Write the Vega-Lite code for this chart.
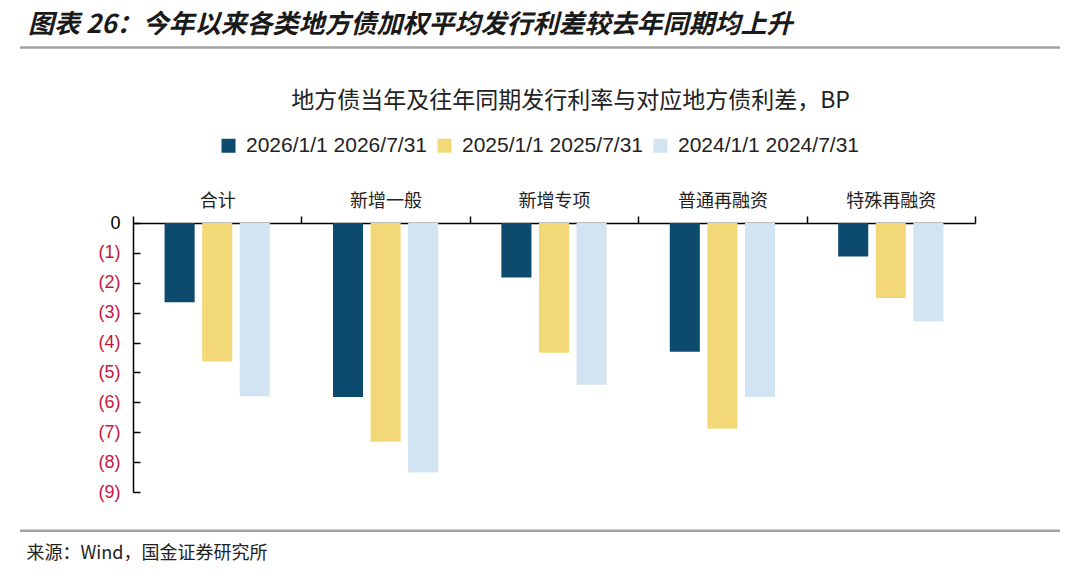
{
  "$schema": "https://vega.github.io/schema/vega-lite/v6.json",
  "width": 1040,
  "height": 269,
  "autosize": {"type": "none"},
  "padding": {"left": 20, "top": 223, "right": 20, "bottom": 91},
  "background": "white",
  "title": {
    "text": "图表 26：今年以来各类地方债加权平均发行利差较去年同期均上升",
    "anchor": "start",
    "frame": "group",
    "font": "Noto Sans CJK SC",
    "fontSize": 26,
    "fontWeight": "bold",
    "fontStyle": "italic",
    "color": "#1a1a1a",
    "dx": 8,
    "offset": 8
  },
  "data": {
    "values": [
      {"category": "合计", "period": "2026/1/1 2026/7/31", "value": -2.65},
      {"category": "合计", "period": "2025/1/1 2025/7/31", "value": -4.63},
      {"category": "合计", "period": "2024/1/1 2024/7/31", "value": -5.80},
      {"category": "新增一般", "period": "2026/1/1 2026/7/31", "value": -5.82},
      {"category": "新增一般", "period": "2025/1/1 2025/7/31", "value": -7.32},
      {"category": "新增一般", "period": "2024/1/1 2024/7/31", "value": -8.35},
      {"category": "新增专项", "period": "2026/1/1 2026/7/31", "value": -1.82},
      {"category": "新增专项", "period": "2025/1/1 2025/7/31", "value": -4.34},
      {"category": "新增专项", "period": "2024/1/1 2024/7/31", "value": -5.41},
      {"category": "普通再融资", "period": "2026/1/1 2026/7/31", "value": -4.31},
      {"category": "普通再融资", "period": "2025/1/1 2025/7/31", "value": -6.88},
      {"category": "普通再融资", "period": "2024/1/1 2024/7/31", "value": -5.82},
      {"category": "特殊再融资", "period": "2026/1/1 2026/7/31", "value": -1.12},
      {"category": "特殊再融资", "period": "2025/1/1 2025/7/31", "value": -2.51},
      {"category": "特殊再融资", "period": "2024/1/1 2024/7/31", "value": -3.29}
    ]
  },
  "layer": [
    {
      "mark": {"type": "bar"},
      "encoding": {
        "x": {
          "field": "category",
          "type": "nominal",
          "sort": ["合计", "新增一般", "新增专项", "普通再融资", "特殊再融资"],
          "scale": {"range": [113, 955], "paddingInner": 0, "paddingOuter": 0},
          "title": "地方债当年及往年同期发行利率与对应地方债利差，BP",
          "axis": {
            "orient": "top",
            "tickBand": "extent",
            "labelAngle": 0,
            "labelFont": "Noto Sans CJK SC",
            "labelFontSize": 18,
            "labelColor": "#222222",
            "labelPadding": 6,
            "tickSize": 7,
            "tickColor": "#000000",
            "tickWidth": 1.5,
            "domainColor": "#000000",
            "domainWidth": 1.5,
            "titleFont": "Noto Sans CJK SC",
            "titleFontSize": 23,
            "titleFontWeight": "normal",
            "titleColor": "#222222",
            "titleX": 550,
            "titleY": -123,
            "titleAlign": "center",
            "titleBaseline": "middle"
          }
        },
        "xOffset": {
          "field": "period",
          "type": "nominal",
          "sort": ["2026/1/1 2026/7/31", "2025/1/1 2025/7/31", "2024/1/1 2024/7/31"],
          "scale": {"paddingInner": 0.2, "paddingOuter": 0.84}
        },
        "y": {
          "field": "value",
          "type": "quantitative",
          "scale": {"domain": [-9, 0], "nice": false, "zero": false},
          "title": "来源：Wind，国金证券研究所",
          "axis": {
            "orient": "left",
            "offset": -113,
            "values": [0, -1, -2, -3, -4, -5, -6, -7, -8, -9],
            "tickCount": 10,
            "labelExpr": "datum.value == 0 ? '0' : '(' + abs(datum.value) + ')'",
            "labelColor": {"condition": {"test": "datum.value == 0", "value": "#000000"}, "value": "#c8163c"},
            "labelFont": "Liberation Sans",
            "labelFontSize": 18,
            "labelPadding": 20,
            "labelOverlap": false,
            "labelBound": false,
            "labelFlush": false,
            "tickSize": -7,
            "tickColor": "#000000",
            "tickWidth": 1.5,
            "domainColor": "#000000",
            "domainWidth": 1.5,
            "grid": false,
            "titleAngle": 0,
            "titleAlign": "left",
            "titleBaseline": "middle",
            "titleX": -107,
            "titleY": 330,
            "titleFont": "Noto Sans CJK SC",
            "titleFontSize": 18,
            "titleFontWeight": "normal",
            "titleColor": "#222222"
          }
        },
        "color": {
          "field": "period",
          "type": "nominal",
          "scale": {
            "domain": ["2026/1/1 2026/7/31", "2025/1/1 2025/7/31", "2024/1/1 2024/7/31"],
            "range": ["#0c4a6e", "#f3d878", "#d2e3f2"]
          },
          "legend": {
            "orient": "none",
            "legendX": 198,
            "legendY": -88,
            "direction": "horizontal",
            "title": null,
            "symbolType": "square",
            "symbolSize": 196,
            "symbolStrokeWidth": 0,
            "symbolOpacity": 1,
            "labelFont": "Liberation Sans",
            "labelFontSize": 21,
            "labelLimit": 0,
            "labelColor": "#222222",
            "labelOffset": 7,
            "columnPadding": 6
          }
        }
      }
    },
    {
      "data": {"values": [{}]},
      "mark": {"type": "rule", "color": "#a3a3a3", "strokeWidth": 2.5},
      "encoding": {"y": {"datum": 5.87, "type": "quantitative"}}
    },
    {
      "data": {"values": [{}]},
      "mark": {"type": "rule", "color": "#a3a3a3", "strokeWidth": 2.5},
      "encoding": {"y": {"datum": -10.3, "type": "quantitative"}}
    }
  ],
  "config": {
    "view": {"stroke": null}
  }
}
